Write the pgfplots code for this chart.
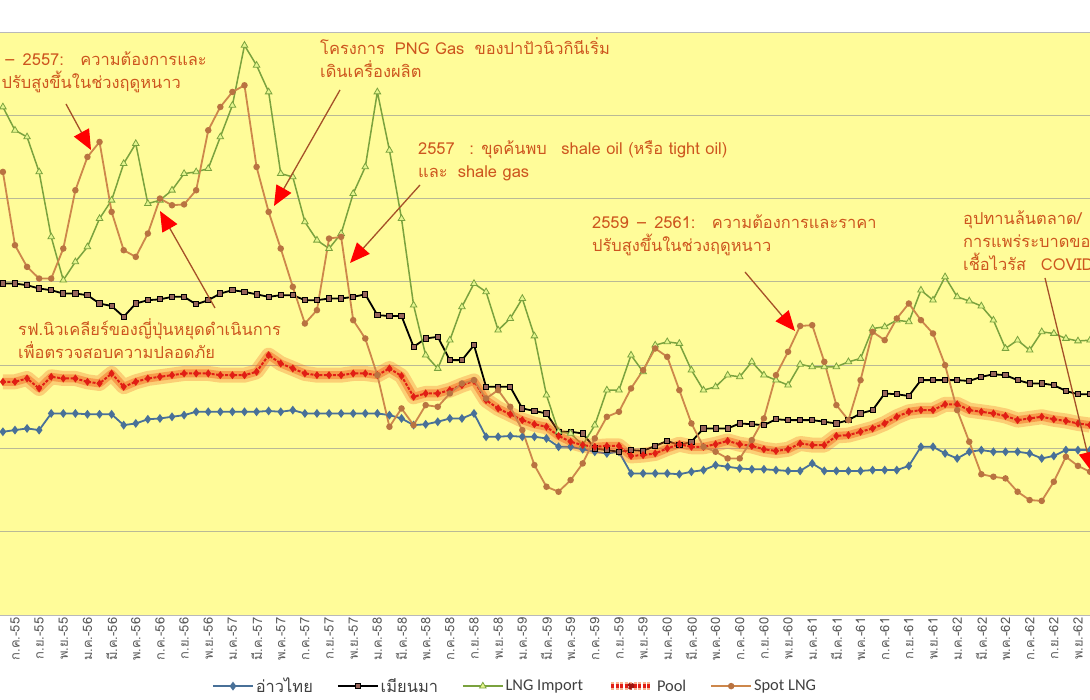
\documentclass[border=0pt]{standalone}
\usepackage{fontspec}
\setmainfont{Carlito}
\newfontfamily\thaifont[Script=Thai]{Loma}
\usepackage{pgfplots}
\pgfplotsset{compat=1.18}
\usepackage{pgfplotstable}
\usetikzlibrary{arrows.meta}

\definecolor{chartbg}{RGB}{255,252,153}
\definecolor{gridc}{RGB}{185,185,150}
\definecolor{thaiblue}{RGB}{72,112,152}
\definecolor{myabrown}{RGB}{150,100,90}
\definecolor{lnggreen}{RGB}{122,162,62}
\definecolor{lngfill}{RGB}{228,245,140}
\definecolor{poolred}{RGB}{225,30,20}
\definecolor{poolglow}{RGB}{245,105,35}
\definecolor{spotorange}{RGB}{205,135,75}
\definecolor{spotmark}{RGB}{185,115,65}
\definecolor{notec}{RGB}{205,85,30}
\definecolor{arrowc}{RGB}{165,80,40}

% m = months after Jul-55 (prices, baht/MMBTU)
\pgfplotstableread{
m thai mya lng pool spot
-1 220 398 610 280 532
0 222 398 582 280 444
1 224 396 574 284 418
2 222 392 532 272 404
3 242 390 454 286 404
4 242 386 402 284 440
5 242 386 424 284 510
6 241 384 442 280 550
7 241 374 476 278 568
8 241 371 498 290 484
9 228 358 542 274 438
10 230 374 566 280 430
11 235 378 494 284 458
12 236 379 498 286 500
13 238 382 510 288 492
14 240 382 530 290 493
15 244 373 532 290 510
16 244 378 536 290 582
17 244 386 574 288 610
18 244 390 612 288 628
19 244 388 684 288 636
20 244 385 660 292 538
21 245 382 628 312 484
22 244 384 530 302 440
23 246 384 526 296 394
24 242 378 472 290 350
25 242 378 450 288 366
26 242 380 440 288 452
27 242 380 458 288 454
28 242 382 506 290 354
29 242 385 538 290 332
30 242 360 628 288 288
31 240 359 558 296 226
32 236 359 476 287 248
33 228 322 372 262 228
34 229 332 312 266 252
35 232 334 296 266 250
36 236 306 330 270 266
37 236 306 370 276 278
38 242 324 398 281 282
39 214 274 388 258 260
40 214 274 342 248 270
41 215 274 356 241 250
42 214 248 380 234 222
43 214 245 335 229 180
44 212 242 264 226 154
45 202 220 220 215 148
46 202 220 218 208 162
47 199 218 204 204 182
48 196 200 228 202 212
49 194 198 270 203 238
50 196 196 270 203 244
51 170 198 312 191 272
52 170 197 292 192 294
53 170 203 324 194 320
54 170 209 328 200 310
55 169 204 326 205 270
56 172 208 294 202 230
57 174 224 270 202 202
58 180 224 274 205 196
59 178 224 288 209 188
60 176 230 286 205 188
61 175 229 304 203 210
62 175 228 288 199 236
63 174 235 282 197 288
64 173 234 276 199 316
65 173 234 301 206 347
66 182 234 298 204 348
67 173 232 298 204 304
68 173 230 298 215 252
69 173 234 304 216 234
70 173 242 308 220 282
71 174 246 344 224 340
72 174 266 346 230 330
73 174 265 354 238 356
74 179 263 352 244 374
75 202 282 390 246 354
76 202 282 378 246 338
77 194 282 406 253 300
78 188 282 382 253 246
79 196 281 377 246 208
80 198 286 371 244 169
81 196 289 354 242 166
82 196 288 320 239 164
83 196 282 330 234 148
84 194 278 318 236 138
85 188 278 340 238 137
86 191 276 338 235 160
87 198 269 332 233 190
88 198 265 329 230 179
89 198 265 330 228 172
}\gasdata

\begin{document}
\begin{tikzpicture}
\useasboundingbox (0,0) rectangle (1090bp,700bp);
\clip (0,0) rectangle (1090bp,700bp);
\begin{axis}[
    at={(0bp,85bp)}, anchor=south west,
    scale only axis, width=1090bp, height=583bp,
    xmin=-1.24, xmax=89, ymin=0, ymax=700,
    axis background/.style={fill=chartbg},
    separate axis lines,
    x axis line style={draw=gray!55, line width=1bp},
    y axis line style={draw=none},
    ytick={100,200,...,600}, yticklabels={},
    ymajorgrids, grid style={gridc, line width=1bp},
    xtick={0,2,...,88},
    xticklabels={ก.ค.-55,ก.ย.-55,พ.ย.-55,
      ม.ค.-56,มี.ค.-56,พ.ค.-56,ก.ค.-56,ก.ย.-56,พ.ย.-56,
      ม.ค.-57,มี.ค.-57,พ.ค.-57,ก.ค.-57,ก.ย.-57,พ.ย.-57,
      ม.ค.-58,มี.ค.-58,พ.ค.-58,ก.ค.-58,ก.ย.-58,พ.ย.-58,
      ม.ค.-59,มี.ค.-59,พ.ค.-59,ก.ค.-59,ก.ย.-59,พ.ย.-59,
      ม.ค.-60,มี.ค.-60,พ.ค.-60,ก.ค.-60,ก.ย.-60,พ.ย.-60,
      ม.ค.-61,มี.ค.-61,พ.ค.-61,ก.ค.-61,ก.ย.-61,พ.ย.-61,
      ม.ค.-62,มี.ค.-62,พ.ค.-62,ก.ค.-62,ก.ย.-62,พ.ย.-62},
    major tick length=0pt,
    xticklabel style={rotate=90, anchor=east, font=\thaifont\fontsize{13}{15}\selectfont, text=black!65, inner sep=2.5bp},
    legend columns=5,
    legend style={at={(0.4725,-0.122)}, anchor=center, draw=none, fill=none,
      font=\fontsize{16.5}{20}\selectfont, text=black!75,
      /tikz/every even column/.append style={column sep=22bp}},
    legend image code/.code={\draw[mark repeat=2,mark phase=2,#1] plot coordinates {(0bp,0bp) (20bp,0bp) (40bp,0bp)};},
]
\addplot[thaiblue, line width=1.8bp, mark=diamond*, mark size=3bp, mark options={fill=thaiblue}]
    table[x=m, y=thai]{\gasdata};
\addlegendentry{\thaifont อ่าวไทย}
\addplot[black, line width=1.8bp, mark=square*, mark size=2.6bp, mark options={fill=myabrown, draw=black, line width=0.9bp}]
    table[x=m, y=mya]{\gasdata};
\addlegendentry{\thaifont เมียนมา}
\addplot[lnggreen, line width=1.5bp, mark=triangle*, mark size=3.8bp, mark options={fill=lngfill, draw=lnggreen, line width=0.8bp}]
    table[x=m, y=lng]{\gasdata};
\addlegendentry{LNG Import}
\addplot[poolglow, opacity=0.3, line width=15bp, line join=round, forget plot]
    table[x=m, y=pool]{\gasdata};
\addplot[poolglow, opacity=0.5, line width=8bp, line join=round, forget plot]
    table[x=m, y=pool]{\gasdata};
\addplot[poolred, line width=2bp, dash pattern=on 3bp off 1.5bp, mark=diamond*, mark size=2.4bp, mark options={solid, fill=poolred},
    legend image code/.code={
      \draw[poolglow, opacity=0.5, line width=8bp] (0bp,0bp) -- (40bp,0bp);
      \draw[poolred, line width=4bp] (0bp,0bp) -- (40bp,0bp);
      \fill[poolred!70!black] (20bp,0bp) circle (2.5bp);}]
    table[x=m, y=pool]{\gasdata};
\addlegendentry{Pool}
\addplot[spotorange, line width=1.8bp, mark=*, mark size=2.3bp, mark options={fill=spotmark, draw=spotmark}]
    table[x=m, y=spot]{\gasdata};
\addlegendentry{Spot LNG}
\end{axis}

% notes, in image pixels (y downwards)
\begin{scope}[shift={(0bp,700bp)}, x=1bp, y=-1bp, font=\thaifont\fontsize{16.5}{19}\selectfont, text=notec]
  \tikzset{note/.style={-{Triangle[length=20bp,width=17bp,color=red,fill=red]}, arrowc, line width=1.3bp}}
  \node[anchor=base east, inner sep=0] at (207,66) {2555\;\; –\, 2557:\;\; ความต้องการและ};
  \node[anchor=base east, inner sep=0] at (181,89) {ราคา\,ปรับสูงขึ้นในช่วงฤดูหนาว};
  \node[anchor=base west, inner sep=0] at (320,55) {โครงการ\; PNG Gas\; ของปาปัวนิวกินีเริ่ม};
  \node[anchor=base west, inner sep=0] at (320,78) {เดินเครื่องผลิต};
  \node[anchor=base west, inner sep=0] at (418,155) {2557\;\; : ขุดค้นพบ\;\; shale oil (หรือ tight oil)};
  \node[anchor=base west, inner sep=0] at (418,178) {และ\; shale gas};
  \node[anchor=base west, inner sep=0] at (18,336) {รฟ.นิวเคลียร์ของญี่ปุ่นหยุดดำเนินการ};
  \node[anchor=base west, inner sep=0] at (18,359) {เพื่อตรวจสอบความปลอดภัย};
  \node[anchor=base west, inner sep=0] at (592,229) {2559 \,–\, 2561:\;\; ความต้องการและราคา};
  \node[anchor=base west, inner sep=0] at (592,252) {ปรับสูงขึ้นในช่วงฤดูหนาว};
  \node[anchor=base west, inner sep=0] at (963,225) {อุปทานล้นตลาด/};
  \node[anchor=base west, inner sep=0] at (963,248) {การแพร่ระบาดของ};
  \node[anchor=base west, inner sep=0] at (963,271) {เชื้อไวรัส\;\; COVID-19};
  \draw[note] (66,104) -- (91,150);
  \draw[note] (340,90) -- (274,206);
  \draw[note] (420,185) -- (350,263);
  \draw[note] (215,308) -- (160,211);
  \draw[note] (745,272) -- (795,331);
  \draw[note] (1045,278) -- (1092,472);
\end{scope}
\end{tikzpicture}
\end{document}
